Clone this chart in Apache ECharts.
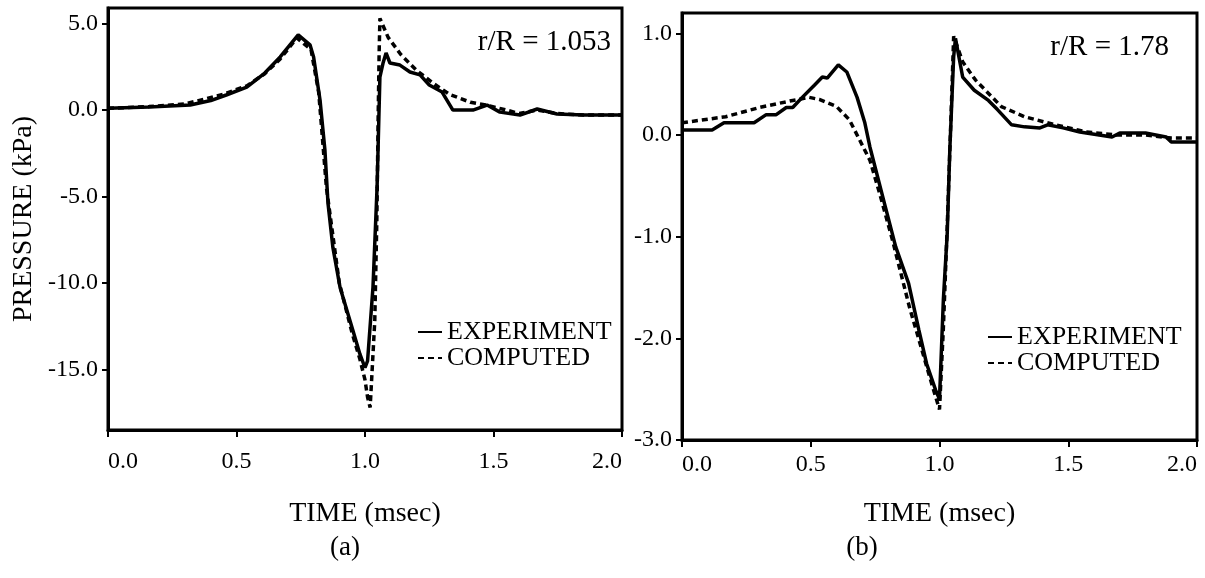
<!DOCTYPE html>
<html>
<head>
<meta charset="utf-8">
<script src="https://cdn.jsdelivr.net/npm/echarts@6/dist/echarts.min.js"></script>
<style>
html,body{margin:0;padding:0;background:#fff;}
#chart{width:1205px;height:578px;}
</style>
</head>
<body>
<div id="chart"></div>
<script>
// ---- data (time in msec, pressure in kPa) ----
const timeTicks = [0, 0.5, 1.0, 1.5, 2.0];
const pressureTicksA = [-15, -10, -5, 0, 5];
const pressureTicksB = [-3, -2, -1, 0, 1];
const seriesNames = ['EXPERIMENT', 'COMPUTED'];
const panelLabels = ['r/R = 1.053', 'r/R = 1.78'];
const captions = ['(a)', '(b)'];

// panel (a): r/R = 1.053
const tA_exp = [0, 0.16, 0.32, 0.40, 0.46, 0.54, 0.61, 0.67, 0.74, 0.786, 0.80, 0.825, 0.844, 0.856, 0.875, 0.903, 0.93, 0.953, 0.98, 1.0, 1.01, 1.031, 1.047, 1.058, 1.07, 1.082, 1.097, 1.136, 1.175, 1.214, 1.25, 1.30, 1.342, 1.42, 1.475, 1.525, 1.603, 1.67, 1.747, 1.85, 2.0];
const pA_exp = [0.1, 0.17, 0.29, 0.55, 0.87, 1.33, 2.14, 3.07, 4.35, 3.77, 3.07, 0.58, -2.3, -5.39, -7.94, -10.26, -11.6, -12.75, -14.1, -14.9, -14.5, -10.26, -4.46, 1.9, 2.7, 3.3, 2.72, 2.6, 2.2, 2.03, 1.45, 1.04, 0.0, 0.0, 0.29, -0.12, -0.29, 0.06, -0.23, -0.29, -0.29];
const tA_cmp = [0, 0.16, 0.30, 0.45, 0.54, 0.61, 0.67, 0.735, 0.79, 0.82, 0.85, 0.90, 0.95, 0.98, 1.0, 1.01, 1.02, 1.038, 1.046, 1.051, 1.055, 1.058, 1.09, 1.14, 1.20, 1.27, 1.33, 1.41, 1.47, 1.55, 1.60, 1.67, 1.75, 1.85, 2.0];
const pA_cmp = [0.1, 0.2, 0.35, 0.92, 1.4, 2.1, 2.95, 4.17, 3.5, 1.0, -4.5, -10.0, -12.9, -14.4, -15.6, -16.6, -17.2, -12.2, -6.4, -0.6, 3.3, 5.3, 4.2, 3.2, 2.3, 1.5, 0.9, 0.45, 0.29, 0.0, -0.2, 0.0, -0.2, -0.29, -0.29];

// panel (b): r/R = 1.78
const tB_exp = [0, 0.117, 0.163, 0.28, 0.327, 0.366, 0.405, 0.43, 0.467, 0.514, 0.545, 0.564, 0.607, 0.64, 0.68, 0.71, 0.73, 0.79, 0.83, 0.88, 0.92, 0.95, 0.985, 1.0, 1.015, 1.03, 1.04, 1.055, 1.062, 1.09, 1.135, 1.19, 1.225, 1.28, 1.33, 1.39, 1.42, 1.48, 1.545, 1.62, 1.67, 1.70, 1.80, 1.88, 1.90, 2.0];
const pB_exp = [0.05, 0.05, 0.12, 0.12, 0.2, 0.2, 0.27, 0.27, 0.37, 0.49, 0.57, 0.56, 0.69, 0.62, 0.37, 0.12, -0.12, -0.71, -1.1, -1.46, -1.92, -2.25, -2.51, -2.6, -1.62, -0.97, -0.15, 0.77, 0.95, 0.57, 0.44, 0.34, 0.25, 0.1, 0.08, 0.07, 0.1, 0.07, 0.03, 0.0, -0.02, 0.02, 0.02, -0.02, -0.07, -0.07];
const tB_cmp = [0, 0.17, 0.30, 0.43, 0.494, 0.533, 0.60, 0.65, 0.69, 0.73, 0.767, 0.817, 0.883, 0.93, 0.97, 1.0, 1.015, 1.03, 1.045, 1.055, 1.09, 1.14, 1.24, 1.33, 1.45, 1.57, 1.69, 1.80, 1.90, 2.0];
const pB_cmp = [0.12, 0.18, 0.27, 0.34, 0.37, 0.35, 0.28, 0.15, -0.05, -0.25, -0.57, -1.03, -1.69, -2.1, -2.45, -2.7, -1.9, -0.9, 0.2, 0.97, 0.72, 0.54, 0.28, 0.18, 0.1, 0.03, 0.0, 0.0, -0.03, -0.03];

const pairs = (t, p) => t.map((x, i) => [x, p[i]]);

const FONT = '"Liberation Serif", "Times New Roman", serif';

function xAxisCfg(gridIndex, nameGap, labelMargin) {
  return {
    type: 'value', gridIndex: gridIndex, min: 0, max: 2, interval: 0.5,
    name: 'TIME (msec)', nameLocation: 'middle', nameGap: nameGap,
    nameTextStyle: { fontFamily: FONT, fontSize: 28, color: '#000' },
    axisLine: { show: true, onZero: false, lineStyle: { color: '#000', width: 3 } },
    axisTick: { show: true, length: 7, lineStyle: { color: '#000', width: 2 }, customValues: timeTicks },
    axisLabel: {
      fontFamily: FONT, fontSize: 24, color: '#000', margin: labelMargin,
      customValues: timeTicks,
      formatter: v => Number(v).toFixed(1),
      alignMinLabel: 'left', alignMaxLabel: 'right'
    },
    splitLine: { show: false }
  };
}
function yAxisCfg(gridIndex, min, max, ticks, name) {
  return {
    type: 'value', gridIndex: gridIndex, min: min, max: max,
    name: name, nameLocation: 'middle', nameGap: 70, nameRotate: 90,
    nameTextStyle: { fontFamily: FONT, fontSize: 28, color: '#000' },
    axisLine: { show: true, onZero: false, lineStyle: { color: '#000', width: 3 } },
    axisTick: { show: true, length: 6, lineStyle: { color: '#000', width: 2 }, customValues: ticks },
    axisLabel: {
      fontFamily: FONT, fontSize: 24, color: '#000', margin: 10,
      customValues: ticks,
      formatter: v => Number(v).toFixed(1)
    },
    splitLine: { show: false }
  };
}
function lineSeries(name, xi, data, dashed) {
  return {
    name: name, type: 'line', xAxisIndex: xi, yAxisIndex: xi,
    data: data, symbol: 'none', showSymbol: false, smooth: false, animation: false,
    lineStyle: { color: '#000', width: 3.5, type: dashed ? [6, 4] : 'solid' },
    itemStyle: { color: '#000' }
  };
}
function legendCfg(left, top) {
  return {
    data: seriesNames, orient: 'vertical', left: left, top: top,
    itemWidth: 24, itemHeight: 14, itemGap: 0, padding: 0,
    selectedMode: false,
    itemStyle: { opacity: 0 },
    textStyle: { fontFamily: FONT, fontSize: 26, color: '#000', lineHeight: 26 }
  };
}
function label(text, x, y, align, size) {
  return {
    type: 'text', x: x, y: y, silent: true,
    style: {
      text: text, fill: '#000', font: size + 'px ' + FONT,
      align: align, textAlign: align, verticalAlign: 'middle', textVerticalAlign: 'middle'
    }
  };
}

const chart = echarts.init(document.getElementById('chart'), null, { renderer: 'canvas' });
chart.setOption({
  animation: false,
  backgroundColor: '#fff',
  grid: [
    { left: 108, top: 8, width: 514, height: 422, show: true, borderColor: '#000', borderWidth: 3, containLabel: false },
    { left: 682, top: 13, width: 515, height: 427, show: true, borderColor: '#000', borderWidth: 3, containLabel: false }
  ],
  xAxis: [xAxisCfg(0, 70, 20), xAxisCfg(1, 60, 13)],
  yAxis: [
    yAxisCfg(0, -18.5, 5.9, pressureTicksA, 'PRESSURE (kPa)'),
    yAxisCfg(1, -3, 1.2, pressureTicksB, '')
  ],
  legend: [legendCfg(417, 319), legendCfg(987, 324)],
  series: [
    lineSeries(seriesNames[0], 0, pairs(tA_exp, pA_exp), false),
    lineSeries(seriesNames[1], 0, pairs(tA_cmp, pA_cmp), true),
    lineSeries(seriesNames[0], 1, pairs(tB_exp, pB_exp), false),
    lineSeries(seriesNames[1], 1, pairs(tB_cmp, pB_cmp), true)
  ],
  graphic: [
    label(panelLabels[0], 611, 42, 'right', 29),
    label(panelLabels[1], 1169, 47, 'right', 29),
    label(captions[0], 345, 548, 'center', 27),
    label(captions[1], 862, 548, 'center', 27)
  ]
});
</script>
</body>
</html>
